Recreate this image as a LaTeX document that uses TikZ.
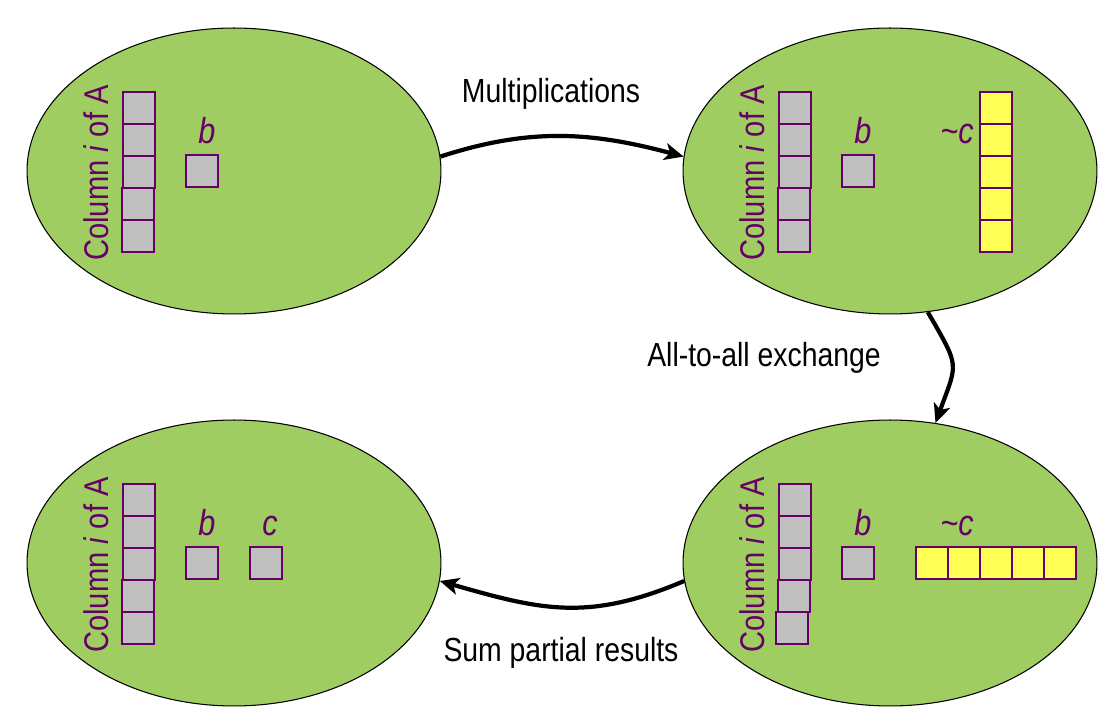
\documentclass[tikz,border=0pt]{standalone}
\usepackage{fontspec}
\setmainfont{Liberation Sans}
\newfontfamily\narrowsans{Liberation Sans}[FakeStretch=0.85]
\usepackage{tikz}
\usetikzlibrary{arrows.meta,shapes.geometric,calc}
\definecolor{blobgreen}{RGB}{160,205,98}
\definecolor{cellgray}{RGB}{192,192,192}
\definecolor{cellyellow}{RGB}{255,255,85}
\definecolor{inkpurple}{RGB}{102,0,102}
\tikzset{
  procblob/.style={
    ellipse, draw=black, line width=.6pt, fill=blobgreen,
    minimum width=8.28cm, minimum height=5.72cm, inner sep=0pt
  },
  cell/.style={
    draw=inkpurple, line width=.7pt, fill=cellgray,
    minimum size=.64cm, inner sep=0pt
  },
  ycell/.style={cell, fill=cellyellow},
  collabel/.style={
    rotate=90, inner sep=0pt, text=inkpurple,
    font=\narrowsans\fontsize{19.5}{23}\selectfont
  },
  tag/.style={
    anchor=base, inner sep=0pt, text=inkpurple,
    font=\narrowsans\itshape\fontsize{20.5}{24}\selectfont
  },
  flow/.style={-{Stealth[length=3.8mm,width=3.4mm,inset=1mm]}, line width=2.4pt},
  flowlabel/.style={inner sep=0pt, font=\narrowsans\fontsize{19}{23}\selectfont}
}
% column of A and b, placed round the centre of an ellipse
\newcommand{\colofA}[2]{%
  \foreach \k/\dx in {#2}
    \node[cell] (#1a\k) at ($(#1)+(-95+\dx,63-32*\k)$) {};
  \node[collabel] (#1t) at ($(#1)+(-138,-2)$) {Column \textit{i} of A};
  \node[cell] (#1b) at ($(#1)+(-32,0)$) {};
  \node[tag] (#1bt) at ($(#1)+(-27,27)$) {b};
}

\begin{document}
\begin{tikzpicture}[x=.02cm,y=.02cm]
  \useasboundingbox (0,0) rectangle (1110,720);

  % Processors
  \node[procblob] (p1) at (234,549) {};
  \node[procblob] (p2) at (890,549) {};
  \node[procblob] (p3) at (890,157) {};
  \node[procblob] (p4) at (234,157) {};

  % Contents
  \colofA{p1}{0/0,1/0,2/0,3/-1,4/-1}
  \colofA{p2}{0/0,1/0,2/0,3/-1,4/-1}
  \colofA{p3}{0/0,1/0,2/0,3/-1,4/-3}
  \colofA{p4}{0/0,1/0,2/0,3/-1,4/-1}

  % partial c, as a column, then as a row
  \foreach \k in {0,...,4}
    \node[ycell] (p2c\k) at ($(p2)+(106,63-32*\k)$) {};
  \node[tag] (p2ct) at ($(p2)+(67,27)$) {\textasciitilde c};
  \foreach \k in {0,...,4}
    \node[ycell] (p3c\k) at ($(p3)+(42+32*\k,0)$) {};
  \node[tag] (p3ct) at ($(p3)+(67,27)$) {\textasciitilde c};

  % final c
  \node[cell] (p4c) at ($(p4)+(32,0)$) {};
  \node[tag] (p4ct) at ($(p4)+(36,27)$) {c};

  % Steps
  \draw[flow] (p1.4) to[out=18,in=165] (p2.176);
  \draw[flow] (p2.-75) to[out=-60,in=70,looseness=1.5] (p3.72);
  \draw[flow] (p3.185) to[out=-157,in=-16,looseness=1.1] (p4.-5);
  \node[flowlabel] (l1) at (551,626) {Multiplications};
  \node[flowlabel] (l2) at (764,362) {All-to-all exchange};
  \node[flowlabel] (l3) at (561,67) {Sum partial results};
\end{tikzpicture}
\end{document}
